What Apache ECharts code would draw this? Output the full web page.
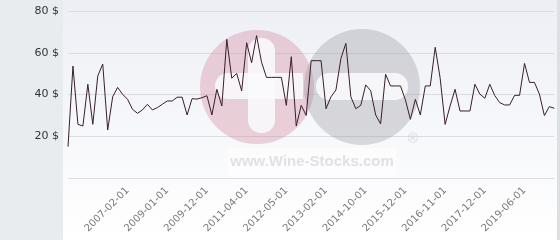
<!DOCTYPE html>
<html>
<head>
<meta charset="utf-8">
<script src="https://cdn.jsdelivr.net/npm/echarts@6/dist/echarts.min.js"></script>
<style>
html,body{margin:0;padding:0;background:#fff;}
#chart{width:560px;height:240px;}
</style>
</head>
<body>
<div id="chart"></div>
<script>
// Categories (dates of each price observation)
const dates = [
  '2004-03-01','2004-06-01','2004-09-01','2004-12-01','2005-03-01','2005-05-01','2005-08-01','2005-11-01','2006-02-01','2006-05-01',
  '2006-08-01','2006-11-01','2007-02-01','2007-05-01','2007-08-01','2007-11-01','2008-02-01','2008-05-01','2008-08-01','2008-10-01',
  '2009-01-01','2009-02-01','2009-03-01','2009-05-01','2009-06-01','2009-08-01','2009-09-01','2009-10-01','2009-12-01','2010-02-01',
  '2010-04-01','2010-06-01','2010-08-01','2010-10-01','2010-12-01','2011-02-01','2011-04-01','2011-06-01','2011-07-01','2011-09-01',
  '2011-10-01','2011-12-01','2012-01-01','2012-03-01','2012-05-01','2012-06-01','2012-07-01','2012-08-01','2012-09-01','2012-10-01',
  '2012-11-01','2012-12-01','2013-02-01','2013-04-01','2013-07-01','2013-09-01','2013-12-01','2014-02-01','2014-05-01','2014-07-01',
  '2014-10-01','2014-12-01','2015-02-01','2015-04-01','2015-05-01','2015-07-01','2015-08-01','2015-10-01','2015-12-01','2016-01-01',
  '2016-03-01','2016-04-01','2016-05-01','2016-07-01','2016-08-01','2016-09-01','2016-11-01','2017-01-01','2017-02-01','2017-04-01',
  '2017-05-01','2017-07-01','2017-08-01','2017-10-01','2017-12-01','2018-02-01','2018-05-01','2018-07-01','2018-09-01','2018-11-01',
  '2019-01-01','2019-04-01','2019-06-01','2019-08-01','2019-10-01','2019-12-01','2020-02-01','2020-04-01','2020-06-01'
];

// Price values ($)
const prices = [
  15.0, 53.6, 25.7, 24.9, 44.9, 25.7, 48.9, 54.6, 23.0, 38.9,
  43.4, 40.1, 37.7, 32.9, 31.0, 32.6, 35.3, 32.6, 33.7, 35.3,
  36.9, 36.9, 38.7, 38.7, 30.2, 38.0, 37.8, 38.5, 39.4, 30.2,
  42.5, 34.5, 66.4, 47.8, 50.1, 41.7, 64.8, 55.2, 68.2, 55.5,
  48.2, 48.2, 48.2, 48.2, 34.8, 58.1, 24.9, 34.8, 30.0, 56.2,
  56.2, 56.2, 33.2, 38.9, 42.2, 57.3, 64.5, 38.9, 33.2, 34.8,
  44.6, 41.8, 30.2, 25.9, 49.7, 44.1, 44.1, 44.1, 37.4, 28.1,
  37.7, 30.2, 44.1, 44.1, 62.6, 47.8, 25.7, 34.5, 42.5, 32.1,
  32.1, 32.1, 44.9, 40.2, 38.2, 44.9, 39.5, 36.1, 35.0, 35.0,
  39.6, 39.6, 54.9, 45.8, 45.8, 40.2, 29.9, 34.2, 33.4
];

// Dates shown as x-axis tick labels
const xTickLabels = [
  '2007-02-01','2009-01-01','2009-12-01','2011-04-01','2012-05-01','2013-02-01',
  '2014-10-01','2015-12-01','2016-11-01','2017-12-01','2019-06-01'
];

// Y-axis tick values
const yTicks = [0, 20, 40, 60, 80];

const chart = echarts.init(document.getElementById('chart'), null, {renderer: 'canvas'});

const option = {
  animation: false,
  backgroundColor: {
    type: 'linear', x: 0, y: 0, x2: 0, y2: 1,
    colorStops: [{offset: 0, color: '#edeff5'}, {offset: 1, color: '#ffffff'}]
  },
  graphic: [
    {type: 'rect', z: -10, shape: {x: 0, y: 0, width: 63, height: 240}, style: {fill: '#e8ecef'}},
    {type: 'rect', z: -10, shape: {x: 557, y: 0, width: 3, height: 240}, style: {fill: '#dde0e3'}},
    // watermark
    {type: 'circle', z: 1, shape: {cx: 257, cy: 87, r: 57}, style: {fill: 'rgba(205,120,145,0.32)'}},
    {type: 'circle', z: 1, shape: {cx: 362, cy: 87, r: 58}, style: {fill: 'rgba(140,140,145,0.3)'}},
    {type: 'rect', z: 1, shape: {x: 248, y: 38, width: 27, height: 95, r: 13}, style: {fill: 'rgba(250,250,252,0.9)'}},
    {type: 'rect', z: 1, shape: {x: 215, y: 73, width: 88, height: 26, r: [13, 0, 0, 13]}, style: {fill: 'rgba(250,250,252,0.9)'}},
    {type: 'rect', z: 1, shape: {x: 316, y: 73, width: 92, height: 27, r: 13}, style: {fill: 'rgba(250,250,252,0.9)'}},
    {type: 'rect', z: 1, shape: {x: 228, y: 148, width: 168, height: 29}, style: {fill: 'rgba(255,255,255,0.5)'}},
    {type: 'text', z: 1, style: {x: 312, y: 162, text: 'www.Wine-Stocks.com', align: 'center', verticalAlign: 'middle',
      font: 'bold 15px "Liberation Sans", Arial, sans-serif', fill: '#e1e1e4'}},
    {type: 'text', z: 1, style: {x: 413, y: 139, text: '®', align: 'center', verticalAlign: 'middle',
      font: '14px "Liberation Sans", Arial, sans-serif', fill: '#dadadd'}}
  ],
  grid: {left: 68, right: 5.7, top: 11, bottom: 62, containLabel: false},
  xAxis: {
    type: 'category',
    data: dates,
    boundaryGap: false,
    axisLine: {show: false},
    axisTick: {show: false},
    splitLine: {show: false},
    axisLabel: {
      rotate: 45,
      margin: 11,
      fontSize: 10,
      fontFamily: '"DejaVu Sans", sans-serif',
      color: '#7a7a7a',
      interval: (i, v) => xTickLabels.indexOf(v) >= 0
    }
  },
  yAxis: {
    type: 'value',
    min: yTicks[0],
    max: yTicks[yTicks.length - 1],
    interval: yTicks[1] - yTicks[0],
    axisLine: {show: false},
    axisTick: {show: false},
    splitLine: {lineStyle: {color: '#dcdde3', width: 1}},
    axisLabel: {
      margin: 9,
      fontSize: 11,
      fontFamily: '"DejaVu Sans", sans-serif',
      color: '#333',
      formatter: v => v === 0 ? '' : v + ' $'
    }
  },
  series: [{
    type: 'line',
    data: prices,
    z: 5,
    showSymbol: false,
    symbol: 'none',
    lineStyle: {color: '#3a1e2a', width: 1},
    itemStyle: {color: '#3a1e2a'}
  }]
};

chart.setOption(option);
</script>
</body>
</html>
